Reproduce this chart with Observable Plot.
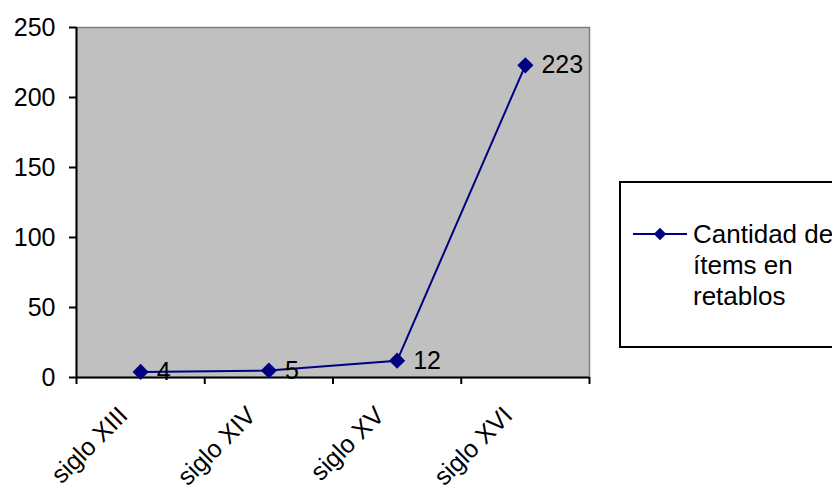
<!DOCTYPE html>
<html><head><meta charset="utf-8">
<script src="https://cdn.jsdelivr.net/npm/d3@7"></script>
<script src="https://cdn.jsdelivr.net/npm/@observablehq/plot@0.6"></script>
<style>
html,body{margin:0;padding:0;background:#fff;overflow:hidden;}
#wrap{position:relative;width:832px;height:493px;overflow:hidden;font-family:"Liberation Sans",Arial,sans-serif;}
#legend{position:absolute;left:619px;top:181px;width:260px;height:167px;border:2px solid #000;box-sizing:border-box;background:#fff;}
#legend svg{position:absolute;left:11px;top:43px;}
#legend .txt{position:absolute;left:72px;top:36px;font-size:26px;line-height:31px;color:#000;white-space:nowrap;}
</style></head>
<body>
<div id="wrap"><div id="chart"></div><div id="legend"></div></div>
<script>
const categories = ["siglo XIII", "siglo XIV", "siglo XV", "siglo XVI"];
const values = [4, 5, 12, 223];
const yTicks = [0, 50, 100, 150, 200, 250];
const legendLines = ["Cantidad de", "ítems en", "retablos"];

const data = categories.map((c, i) => ({c, pos: i + 0.5, v: values[i]}));
const boundaries = d3.range(categories.length + 1);
const font = "'Liberation Sans', Arial, sans-serif";
const navy = "#000080";

const chart = Plot.plot({
  width: 832, height: 493,
  marginLeft: 76, marginRight: 243, marginTop: 27, marginBottom: 116,
  x: {domain: [0, categories.length], axis: null},
  y: {domain: [0, 250], axis: null},
  style: {fontFamily: font, fontSize: "25px", color: "#000", background: "transparent", overflow: "visible"},
  marks: [
    Plot.frame({fill: "#c0c0c0", stroke: "#808080", strokeWidth: 1.5}),
    Plot.axisY({ticks: yTicks, tickSize: 7, tickPadding: 14, strokeWidth: 2, label: null, fontSize: 25}),
    Plot.axisX({ticks: boundaries, tickSize: 7, tickFormat: () => "", strokeWidth: 2, label: null}),
    Plot.ruleY([0], {stroke: "#000", strokeWidth: 2}),
    Plot.ruleX([0], {stroke: "#000", strokeWidth: 2}),
    Plot.text(data, {x: "pos", frameAnchor: "bottom", text: "c", rotate: -45, textAnchor: "end", lineAnchor: "top", dx: -24, dy: 27, fontSize: 25}),
    Plot.line(data, {x: "pos", y: "v", stroke: navy, strokeWidth: 2}),
    Plot.dot(data, {x: "pos", y: "v", symbol: "diamond2", r: 7.3, fill: navy, stroke: "none"}),
    Plot.text(data, {x: "pos", y: "v", text: d => String(d.v), textAnchor: "start", dx: 16, fontSize: 25})
  ]
});
document.getElementById("chart").appendChild(chart);

// legend
const lg = document.getElementById("legend");
const sw = d3.create("svg").attr("width", 56).attr("height", 16);
sw.append("line").attr("x1", 1).attr("x2", 55).attr("y1", 8).attr("y2", 8).attr("stroke", navy).attr("stroke-width", 2);
sw.append("path").attr("d", d3.symbol(d3.symbolDiamond2, 100)()).attr("transform", "translate(28,8)").attr("fill", navy);
lg.appendChild(sw.node());
const t = document.createElement("div");
t.className = "txt";
t.innerHTML = legendLines.join("<br>");
lg.appendChild(t);
</script>
</body></html>
